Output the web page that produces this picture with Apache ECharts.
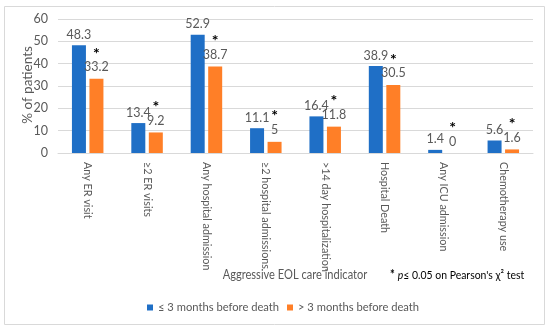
<!DOCTYPE html>
<html><head><meta charset="utf-8">
<script src="https://cdn.jsdelivr.net/npm/echarts@6/dist/echarts.min.js"></script>
<style>html,body{margin:0;padding:0;background:#fff}#c{width:550px;height:329px}</style>
</head><body><div id="c"></div>
<script>
var categories = ["Any ER visit", "\u22652 ER visits", "Any hospital admission", "\u22652 hospital admissions", ">14 day hospitalization", "Hospital Death", "Any ICU admission", "Chemotherapy use"];
var within3 = [48.3, 13.4, 52.9, 11.1, 16.4, 38.9, 1.4, 5.6];
var over3 = [33.2, 9.2, 38.7, 5, 11.8, 30.5, 0, 1.6];
var significant = [true, true, true, true, true, true, true, true];
var yTicks = [0, 10, 20, 30, 40, 50, 60];
var seriesNames = ["\u2264 3 months before death", "> 3 months before death"];

var FONT = "Lato";
var chart = echarts.init(document.getElementById('c'), null, {renderer: 'canvas'});
var legendBase = {
  top: 297, itemWidth: 6, itemHeight: 6, icon: 'rect', padding: 5,
  textStyle: {color: '#595959', fontSize: 11.2, fontFamily: FONT}
};
chart.setOption({
  animation: false,
  textStyle: {fontFamily: FONT},
  grid: {left: 58, right: 17, top: 19, bottom: 176},
  legend: [
    Object.assign({}, legendBase, {left: 142, data: [seriesNames[0]]}),
    Object.assign({}, legendBase, {left: 282, data: [seriesNames[1]]})
  ],
  xAxis: {
    type: 'category', data: categories,
    axisLine: {lineStyle: {color: '#d9d9d9'}},
    axisTick: {show: false},
    axisLabel: {rotate: -90, color: '#595959', fontSize: 10.8, margin: 9, interval: 0, fontFamily: FONT}
  },
  yAxis: {
    type: 'value', min: yTicks[0], max: yTicks[yTicks.length - 1], interval: 10,
    axisLine: {show: false}, axisTick: {show: false},
    splitLine: {lineStyle: {color: '#d9d9d9'}},
    axisLabel: {color: '#595959', fontSize: 12.5, margin: 10, fontFamily: FONT}
  },
  graphic: [
    {type: 'rect', shape: {x: 4.5, y: 6.5, width: 540, height: 318}, style: {fill: 'none', stroke: '#d9d9d9', lineWidth: 1}, silent: true},
    {type: 'text', x: 28, y: 85, rotation: Math.PI / 2, style: {text: '% of patients', fill: '#595959', font: '13.5px ' + FONT, textAlign: 'center', textVerticalAlign: 'middle'}},
    {type: 'text', x: 295, y: 275, scaleX: 0.82, style: {text: 'Aggressive EOL care indicator', fill: '#595959', font: '13.5px ' + FONT, textAlign: 'center', textVerticalAlign: 'middle'}},
    {type: 'text', x: 390, y: 275, scaleX: 0.87, style: {
      text: '{b|*} {i|p}{n|\u2264 0.05 on Pearson\'s \u03c7\u00b2 test}',
      rich: {
        b: {fontSize: 13, fontWeight: 'bold', fill: '#000', fontFamily: FONT},
        i: {fontSize: 12, fontStyle: 'italic', fill: '#000', fontFamily: FONT},
        n: {fontSize: 12, fill: '#000', fontFamily: FONT}
      },
      textVerticalAlign: 'middle'
    }}
  ],
  series: [
    {
      name: seriesNames[0], type: 'bar', data: within3, barWidth: 14, barGap: '25%',
      itemStyle: {color: '#1f6fc6'},
      label: {show: true, position: 'top', distance: 4, color: '#595959', fontSize: 12.5, fontFamily: FONT}
    },
    {
      name: seriesNames[1], type: 'bar', data: over3, barWidth: 14,
      itemStyle: {color: '#ff7f27'},
      label: {
        show: true, position: 'top', distance: 4,
        formatter: function (p) { return (significant[p.dataIndex] ? '{s|*}\n' : '') + '{v|' + p.value + '}'; },
        rich: {
          s: {fontSize: 16, fontWeight: 'bold', color: '#000', lineHeight: 13, fontFamily: FONT},
          v: {fontSize: 12.5, color: '#595959', lineHeight: 15, fontFamily: FONT}
        }
      }
    }
  ]
});
</script></body></html>
